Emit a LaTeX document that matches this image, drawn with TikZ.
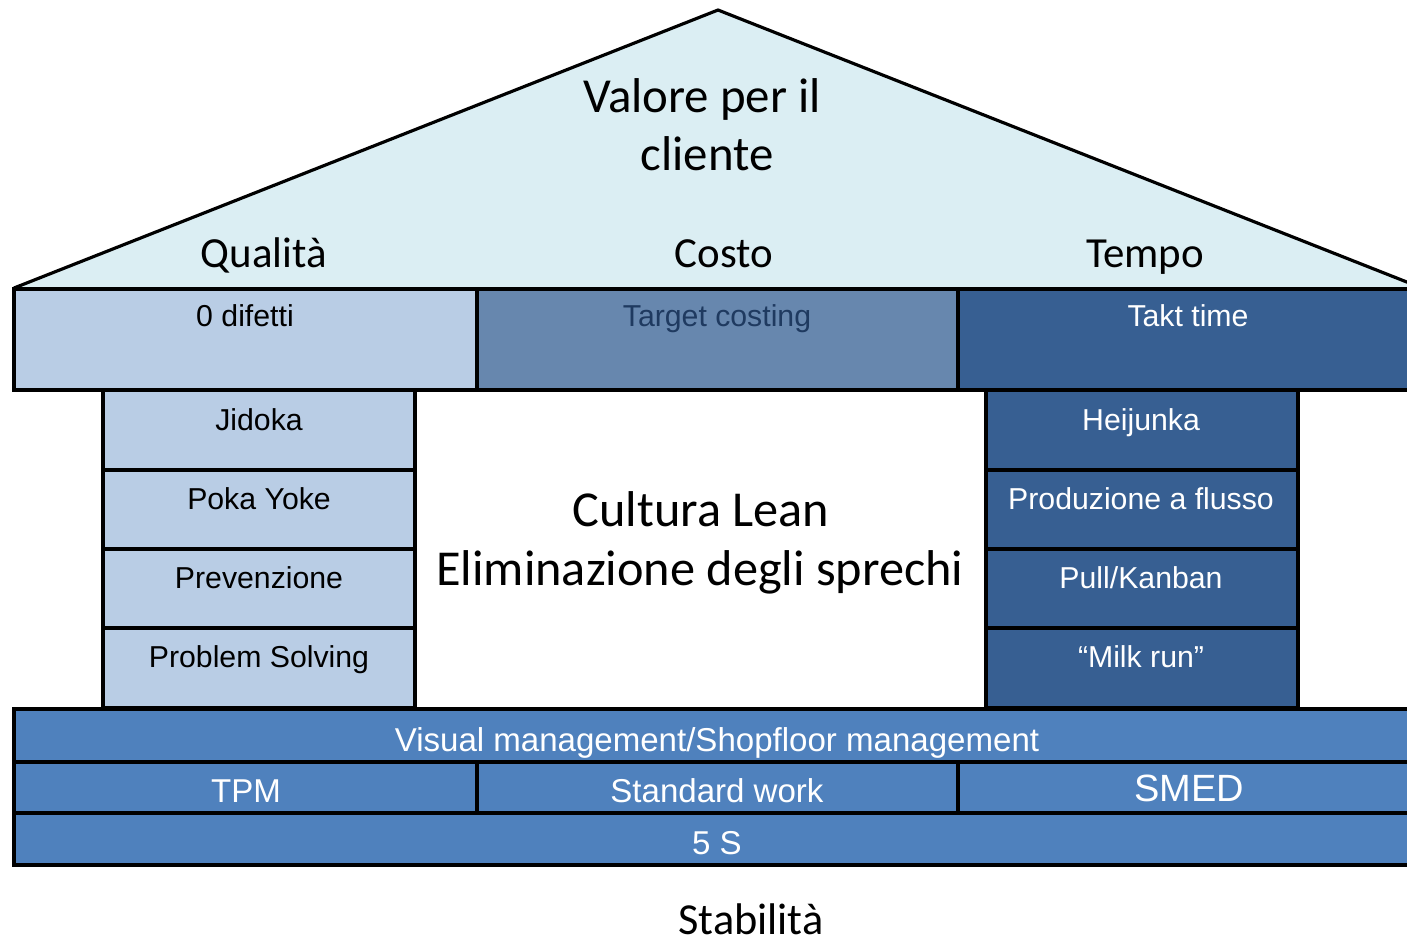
\documentclass[tikz,border=0pt]{standalone}
\usepackage{fontspec}
\setmainfont{Liberation Sans}
\newfontfamily\calfont{Carlito}
\definecolor{roofc}{HTML}{DBEEF3}
\definecolor{lightb}{HTML}{B9CDE5}
\definecolor{midb}{HTML}{6787AE}
\definecolor{darkb}{HTML}{375F92}
\definecolor{baseb}{HTML}{4F81BD}
\definecolor{tcol}{HTML}{1F3A60}
\tikzset{
  box/.style={draw=black,line width=0.9pt},
  lbl/.style={inner sep=0pt,anchor=base,font=\fontsize{8.6pt}{10pt}\selectfont},
  baselbl/.style={lbl,text=white,font=\fontsize{9.4pt}{11pt}\selectfont},
  big/.style={inner sep=0pt,anchor=base,font=\calfont\fontsize{12.2pt}{14pt}\selectfont},
}
\begin{document}
\begin{tikzpicture}[x=0.01cm,y=-0.01cm]
\useasboundingbox (0,0) rectangle (1407,941);
\clip (0,0) rectangle (1407,941);
% roof
\fill[roofc] (14,288) -- (718,10) -- (1422,288) -- cycle;
\draw[line width=0.9pt,line join=miter] (14,288) -- (718,10) -- (1422,288);
% top row
\draw[box,fill=lightb] (14,289) rectangle (477,390);
\draw[box,fill=midb] (477,289) rectangle (958,390);
\draw[box,fill=darkb] (958,289) rectangle (1430,390);
% left column
\foreach \a/\b in {390/470,470/549,549/628,628/708}
  \draw[box,fill=lightb] (103,\a) rectangle (415,\b);
% right column
\foreach \a/\b in {390/470,470/549,549/628,628/708}
  \draw[box,fill=darkb] (986,\a) rectangle (1298,\b);
% base rows
\draw[box,fill=baseb] (14,709) rectangle (1430,762);
\draw[box,fill=baseb] (14,762) rectangle (477,813);
\draw[box,fill=baseb] (477,762) rectangle (958,813);
\draw[box,fill=baseb] (958,762) rectangle (1430,813);
\draw[box,fill=baseb] (14,813) rectangle (1430,865);
% roof texts
\node[big,font=\calfont\fontsize{13.9pt}{16pt}\selectfont] (v1) at (702,112) {Valore per il};
\node[big,font=\calfont\fontsize{13.9pt}{16pt}\selectfont] (v2) at (707,170) {cliente};
\node[big] (q) at (264,267) {Qualità};
\node[big] (c) at (724,267) {Costo};
\node[big] (t) at (1145,267) {Tempo};
% top row texts
\node[lbl] (d0) at (245,326) {0 difetti};
\node[lbl,text=tcol] (tc) at (717,326) {Target costing};
\node[lbl,text=white] (tt) at (1188,326) {Takt time};
% left column texts
\node[lbl] (j) at (259,430) {Jidoka};
\node[lbl] (p) at (259,509) {Poka Yoke};
\node[lbl] (pr) at (259,588) {Prevenzione};
\node[lbl] (ps) at (259,667) {Problem Solving};
% right column texts
\node[lbl,text=white] (h) at (1141,430) {Heijunka};
\node[lbl,text=white] (pf) at (1141,509) {Produzione a flusso};
\node[lbl,text=white] (pk) at (1141,588) {Pull/Kanban};
\node[lbl,text=white] (mr) at (1141,667) {“Milk run”};
% centre
\node[big,font=\calfont\fontsize{14.3pt}{17pt}\selectfont] (cl) at (701,526) {Cultura Lean};
\node[big,font=\calfont\fontsize{14.3pt}{17pt}\selectfont] (el) at (700,585) {Eliminazione degli sprechi};
% base texts
\node[baselbl] (vm) at (717,751) {Visual management/Shopfloor management};
\node[baselbl] (tpm) at (246,802) {TPM};
\node[baselbl] (sw) at (717,802) {Standard work};
\node[baselbl,font=\fontsize{10.8pt}{12pt}\selectfont] (sm) at (1189,801) {SMED};
\node[baselbl] (s5) at (717,854) {5 S};
\node[big,font=\calfont\fontsize{12.6pt}{14pt}\selectfont] (st) at (751,934) {Stabilità};
\end{tikzpicture}
\end{document}
